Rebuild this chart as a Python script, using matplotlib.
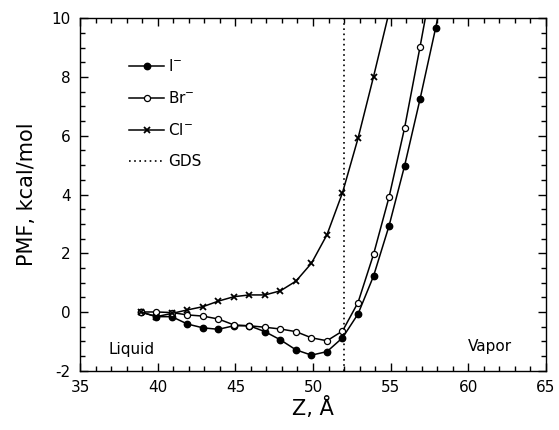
import matplotlib
matplotlib.use('Agg')
import matplotlib.pyplot as plt
from matplotlib.ticker import MultipleLocator

# distance from interface, Angstrom
z_i = [38.9, 39.9, 40.9, 41.9, 42.9, 43.9, 44.9, 45.9, 46.9, 47.9,
       48.9, 49.9, 50.9, 51.9, 52.9, 53.9, 54.9, 55.9, 56.9, 57.9, 58.9]
pmf_i = [0.0, -0.16, -0.16, -0.41, -0.54, -0.59, -0.47, -0.47, -0.67, -0.95,
         -1.29, -1.47, -1.35, -0.88, -0.07, 1.22, 2.93, 4.97, 7.25, 9.66, 12.2]

z_br = [38.9, 39.9, 40.9, 41.9, 42.9, 43.9, 44.9, 45.9, 46.9, 47.9,
        48.9, 49.9, 50.9, 51.9, 52.9, 53.9, 54.9, 55.9, 56.9, 57.9]
pmf_br = [0.0, 0.0, -0.02, -0.10, -0.14, -0.24, -0.44, -0.47, -0.52, -0.58,
          -0.67, -0.88, -0.98, -0.65, 0.32, 1.96, 3.91, 6.26, 9.03, 11.9]

z_cl = [38.9, 39.9, 40.9, 41.9, 42.9, 43.9, 44.9, 45.9, 46.9, 47.9,
        48.9, 49.9, 50.9, 51.9, 52.9, 53.9, 54.9]
pmf_cl = [0.0, -0.16, -0.05, 0.07, 0.18, 0.37, 0.52, 0.58, 0.58, 0.72,
          1.05, 1.66, 2.63, 4.06, 5.91, 8.01, 10.2]

gds_z = 52.0

plt.rcParams['font.family'] = ['DejaVu Sans']
plt.rcParams['mathtext.default'] = 'regular'
plt.rcParams['axes.unicode_minus'] = False

fig = plt.figure(figsize=(5.59, 4.30), dpi=100)
ax = fig.add_axes([0.1437, 0.1379, 0.8325, 0.8195])

ax.plot(z_i, pmf_i, color='black', lw=1.1, marker='o', ms=4.6,
        mfc='black', mec='black', label='I$^{-}$')
ax.plot(z_br, pmf_br, color='black', lw=1.1, marker='o', ms=4.4,
        mfc='white', mec='black', mew=0.9, label='Br$^{-}$')
ax.plot(z_cl, pmf_cl, color='black', lw=1.1, marker='x', ms=4.6,
        mew=1.3, label='Cl$^{-}$')
ax.axvline(gds_z, color='black', ls=(0, (1, 2.1)), lw=1.2, label='GDS')

ax.set_xlim(35, 65)
ax.set_ylim(-2, 10)
ax.xaxis.set_major_locator(MultipleLocator(5))
ax.xaxis.set_minor_locator(MultipleLocator(1))
ax.yaxis.set_major_locator(MultipleLocator(2))
ax.yaxis.set_minor_locator(MultipleLocator(0.5))
ax.tick_params(which='both', direction='in', top=True, right=True,
               labelsize=11, width=1.0)
ax.tick_params(which='major', length=6, pad=7)
ax.tick_params(which='minor', length=3.5)
for s in ax.spines.values():
    s.set_linewidth(1.0)

ax.set_xlabel('Z, Å', fontsize=15, labelpad=1)
ax.set_ylabel('PMF, kcal/mol', fontsize=15, labelpad=10)

ax.text(36.8, -1.27, 'Liquid', fontsize=11, va='center')
ax.text(60.0, -1.18, 'Vapor', fontsize=11, va='center')

ax.legend(loc='upper left', bbox_to_anchor=(0.092, 0.905), frameon=False,
          fontsize=11, handlelength=2.3, handletextpad=0.25,
          labelspacing=1.05, borderaxespad=0)

fig.savefig('out.png', dpi=100)
